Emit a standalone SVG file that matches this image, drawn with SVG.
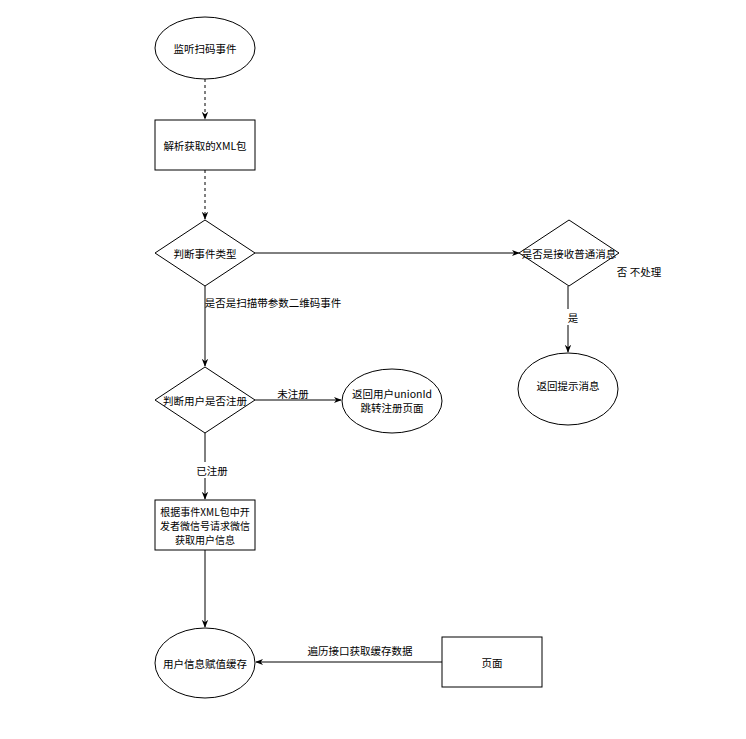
<svg xmlns="http://www.w3.org/2000/svg" width="746" height="739" viewBox="0 0 746 739">
<defs>
<style>
.s{fill:#fff;stroke:#000;stroke-width:1}
.t{font-family:"Noto Sans CJK SC","Liberation Sans",sans-serif;font-size:10.5px;fill:#000;text-anchor:middle;dominant-baseline:central}
.m{font-size:10px}
.e{fill:none;stroke:#000;stroke-width:1}
.d{stroke-dasharray:3 3}
.lb{fill:#fff}
</style>
<marker id="a" viewBox="0 0 10 10" refX="9" refY="5" markerWidth="8" markerHeight="8" markerUnits="userSpaceOnUse" orient="auto">
<path d="M0,1 L10,5 L0,9 L3,5 Z" fill="#000"/>
</marker>
</defs>
<rect width="746" height="739" fill="#fff"/>
<g id="connectors">
<path class="e d" d="M205,79 V119" marker-end="url(#a)"/>
<path class="e d" d="M205,170 V219" marker-end="url(#a)"/>
<path class="e" d="M255,253 H519" marker-end="url(#a)"/>
<path class="e" d="M205,286 V366" marker-end="url(#a)"/>
<path class="e" d="M568,286 V352" marker-end="url(#a)"/>
<path class="e" d="M255,400 H341" marker-end="url(#a)"/>
<path class="e" d="M205,433 V499" marker-end="url(#a)"/>
<path class="e" d="M205,550 V627" marker-end="url(#a)"/>
<path class="e" d="M442,662 H256" marker-end="url(#a)"/>
<text class="t" x="273" y="302">是否是扫描带参数二维码事件</text>
<text class="t" x="639" y="271">否 不处理</text>
<rect class="lb" x="564" y="309" width="12" height="16"/>
<text class="t" x="573" y="317">是</text>
<text class="t" x="293" y="393">未注册</text>
<rect class="lb" x="196" y="462" width="32" height="16"/>
<text class="t" x="212" y="470">已注册</text>
<text class="t" x="360" y="650">遍历接口获取缓存数据</text>
</g>
<g id="n1"><ellipse class="s" cx="205" cy="48" rx="50" ry="31"/><text class="t" x="205" y="48">监听扫码事件</text></g>
<g id="n2"><rect class="s" x="155" y="120" width="100" height="50"/><text class="t" x="205" y="145">解析获取的XML包</text></g>
<g id="n3"><polygon class="s" points="205,220 255,253 205,286 155,253"/><text class="t" x="205" y="253">判断事件类型</text></g>
<g id="n4"><polygon class="s" points="569,220 619,253 569,286 519,253"/><text class="t" x="569" y="253">是否是接收普通消息</text></g>
<g id="n5"><ellipse class="s" cx="568" cy="389" rx="50" ry="36"/><text class="t" x="568" y="385">返回提示消息</text></g>
<g id="n6"><polygon class="s" points="205,367 255,400 205,433 155,400"/><text class="t" x="205" y="400">判断用户是否注册</text></g>
<g id="n7"><ellipse class="s" cx="392" cy="401" rx="50" ry="32"/><text class="t" x="392" y="393">返回用户unionId</text><text class="t" x="392" y="407">跳转注册页面</text></g>
<g id="n8"><rect class="s" x="155" y="500" width="100" height="50"/><text class="t m" x="205" y="511">根据事件XML包中开</text><text class="t m" x="205" y="525">发者微信号请求微信</text><text class="t m" x="205" y="539">获取用户信息</text></g>
<g id="n9"><ellipse class="s" cx="205" cy="663" rx="50" ry="35"/><text class="t" x="205" y="663">用户信息赋值缓存</text></g>
<g id="n10"><rect class="s" x="442" y="637" width="100" height="50"/><text class="t" x="492" y="662">页面</text></g>
</svg>
